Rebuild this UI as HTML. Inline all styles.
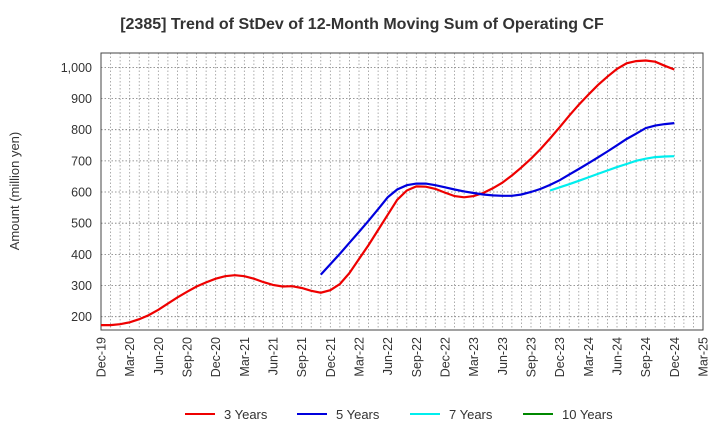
<!DOCTYPE html>
<html><head><meta charset="utf-8"><style>
body{margin:0;background:#fff;font-family:"Liberation Sans",sans-serif;}
</style></head><body>
<svg id="chart" width="720" height="440" xmlns="http://www.w3.org/2000/svg" font-family="Liberation Sans, sans-serif">
<text x="362" y="29" text-anchor="middle" font-size="16" font-weight="bold" fill="#333">[2385]  Trend of StDev of 12-Month Moving Sum of Operating CF</text>
<text transform="translate(19,191) rotate(-90)" text-anchor="middle" font-size="13" fill="#333">Amount (million yen)</text>
<g id="grid"></g><g id="axes"></g><g id="series"></g><g id="legend"></g>
</svg>
<script>
const xLabels=["Dec-19","Mar-20","Jun-20","Sep-20","Dec-20","Mar-21","Jun-21","Sep-21","Dec-21","Mar-22","Jun-22","Sep-22","Dec-22","Mar-23","Jun-23","Sep-23","Dec-23","Mar-24","Jun-24","Sep-24","Dec-24","Mar-25"];
const yTicks=[200,300,400,500,600,700,800,900,1000];
const s3=[173,173,176,182,192,205,222,242,262,280,297,310,322,330,333,330,322,311,302,297,298,292,283,277,285,305,340,385,430,478,527,575,605,618,617,610,598,587,583,587,597,612,630,653,679,707,738,772,808,845,880,912,943,970,995,1013,1020,1022,1018,1005,993];
const s5Start=23;
const s5=[335,368,402,437,472,508,545,583,608,622,627,627,622,615,608,602,597,592,589,588,588,592,600,610,623,638,656,674,692,711,730,750,770,787,805,813,818,821];
const s7Start=47;
const s7=[605,615,625,636,647,658,669,680,690,700,707,712,714,715];
const s10=[];
const L=101,R=703,T=53,B=330;
const X=i=>L+(R-L)*i/63;
const Y=v=>316.7-(v-200)*0.3117;
const NS="http://www.w3.org/2000/svg";
function mk(p,t,a){const e=document.createElementNS(NS,t);for(const k in a)e.setAttribute(k,a[k]);p.appendChild(e);return e;}
const g=document.getElementById('grid'),ax=document.getElementById('axes'),sg=document.getElementById('series'),lg=document.getElementById('legend');
for(let i=1;i<63;i++){const l=mk(g,'line',{x1:X(i),x2:X(i),y1:T,y2:B,stroke:'#999','stroke-dasharray':'1.5,2','stroke-width':0.8});

}
yTicks.forEach(v=>{const l=mk(g,'line',{x1:L,x2:R,y1:Y(v),y2:Y(v),stroke:'#777','stroke-dasharray':'1.5,2','stroke-width':0.8});


const t=mk(ax,'text',{x:92,y:Y(v)+4.5,'text-anchor':'end','font-size':12.5,fill:'#333'});t.textContent=v.toLocaleString('en-US');

});
xLabels.forEach((s,k)=>{const x=X(k*3);const t=mk(ax,'text',{transform:`translate(${x+4.5},337) rotate(-90)`,'text-anchor':'end','font-size':12.5,fill:'#333'});t.textContent=s;

});
const fr=mk(ax,'rect',{x:L,y:T,width:R-L,height:B-T,fill:'none',stroke:'#444','stroke-width':1});


function line(arr,st,col,name){if(!arr.length)return;const d=arr.map((v,i)=>(i?'L':'M')+X(st+i).toFixed(1)+','+Y(v).toFixed(1)).join('');
const p=mk(sg,'path',{d:d,fill:'none',stroke:col,'stroke-width':2.2});

}
line(s3,0,'#e00','series-3-years');line(s5,s5Start,'#00d','series-5-years');line(s7,s7Start,'#0ee','series-7-years');line(s10,0,'#080','series-10-years');
const leg=[['3 Years','#e00',185],['5 Years','#00d',297],['7 Years','#0ee',410],['10 Years','#080',523]];
leg.forEach(([n,c,x])=>{const gg=mk(lg,'g',{});


mk(gg,'line',{x1:x,x2:x+30,y1:414,y2:414,stroke:c,'stroke-width':2});
const t=mk(gg,'text',{x:x+39,y:419,'font-size':13,fill:'#333'});t.textContent=n;});
</script>
</body></html>
